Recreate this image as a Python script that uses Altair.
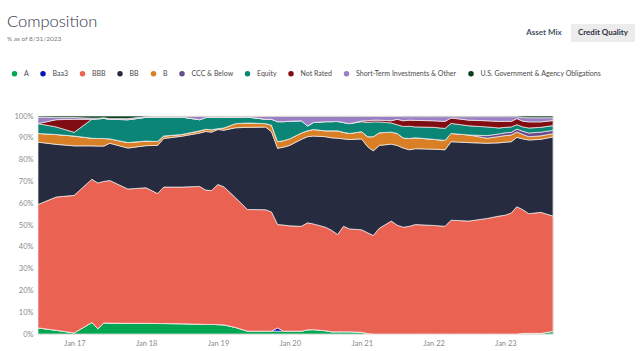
import altair as alt
import pandas as pd

# ---------------- data ----------------
dates = [
    "2016-06-30", "2016-09-30", "2016-12-31", "2017-03-31", "2017-04-30", "2017-05-31",
    "2017-06-30", "2017-09-30", "2017-12-31", "2018-02-28", "2018-03-31", "2018-06-30",
    "2018-09-30", "2018-10-31", "2018-11-30", "2018-12-31", "2019-01-31", "2019-03-31",
    "2019-05-31", "2019-08-31", "2019-09-30", "2019-10-31", "2019-11-30", "2019-12-31",
    "2020-02-29", "2020-03-31", "2020-04-30", "2020-06-30", "2020-07-31", "2020-08-31",
    "2020-09-30", "2020-10-31", "2020-12-31", "2021-01-31", "2021-02-28", "2021-03-31",
    "2021-05-31", "2021-06-30", "2021-07-31", "2021-08-31", "2021-09-30", "2021-12-31",
    "2022-02-28", "2022-03-31", "2022-06-30", "2022-09-30", "2022-11-30", "2022-12-31",
    "2023-01-31", "2023-02-28", "2023-03-31", "2023-04-30", "2023-06-30", "2023-08-31",
]

series_names = [
    "A", "Baa3", "BBB", "BB", "B", "CCC & Below", "Equity", "Not Rated",
    "Short-Term Investments & Other", "U.S. Government & Agency Obligations",
]
series_colors = [
    "#00a651", "#0a14b4", "#ea6352", "#272b3f", "#d98027", "#6a4a8b",
    "#0b8676", "#7f0d12", "#9a7fc4", "#063d1f",
]

a_vals = [2.8, 1.7, 0.5, 5.3, 2.4, 5.1, 5.0, 4.9, 4.9, 4.8, 4.8, 4.7, 4.5, 4.4, 4.4, 4.3, 4.2, 3.0,
          1.3, 1.3, 1.3, 1.3, 1.3, 1.3, 1.3, 1.9, 2.0, 1.5, 1.0, 1.0, 1.0, 1.0, 0.8, 0.2, 0, 0,
          0, 0, 0, 0, 0, 0, 0, 0, 0, 0, 0, 0, 0, 0, 0.3, 0.3, 0.3, 1.2]
baa3_vals = [0, 0, 0, 0, 0, 0, 0, 0, 0, 0, 0, 0, 0, 0, 0, 0, 0, 0,
             0, 0, 0, 1.5, 0, 0, 0, 0, 0, 0, 0, 0, 0, 0, 0, 0, 0, 0,
             0, 0, 0, 0, 0, 0, 0, 0, 0, 0, 0, 0, 0, 0, 0, 0, 0, 0]
bbb_vals = [56.6, 61.1, 63.1, 65.7, 66.9, 64.9, 65.4, 61.6, 62.2, 59.6, 62.6, 62.7, 63.2, 61.6,
            61.4, 64.3, 63.3, 59.5, 55.8, 55.7, 54.7, 47.4, 48.7, 48.3, 48.1, 49.1, 48.5, 47.5,
            46.6, 44.6, 48.4, 47.2, 47.0, 46.2, 45.2, 48.5, 51.8, 49.9, 49.0, 49.4, 50.2, 49.8,
            49.4, 52.2, 51.8, 53.0, 54.1, 54.5, 55.5, 58.4, 56.7, 54.9, 55.5, 52.9]
bb_vals = [28.6, 24.2, 22.7, 15.3, 16.9, 16.2, 17.1, 18.8, 19.3, 22.1, 22.3, 23.3, 24.5, 26.9,
           26.8, 25.2, 26.0, 32.1, 37.7, 37.9, 36.8, 35.0, 35.7, 36.9, 39.9, 39.5, 40.3, 41.5,
           42.4, 44.2, 40.1, 41.0, 41.7, 39.5, 38.8, 38.0, 35.3, 36.6, 36.3, 35.1, 34.8, 35.0,
           35.1, 36.0, 36.0, 34.5, 33.6, 33.5, 32.7, 31.8, 32.5, 33.8, 33.5, 36.3]
b_vals = [4.0, 4.5, 4.5, 3.5, 3.5, 3.5, 2.0, 2.5, 2.1, 1.8, 1.1, 0.8, 1.0, 1.0, 1.1, 0.4, 1.0, 1.9,
          2.0, 1.6, 3.0, 3.0, 3.0, 3.0, 2.9, 2.7, 3.0, 2.7, 3.2, 3.4, 3.0, 2.8, 3.3, 4.6, 6.5, 5.8,
          5.5, 5.5, 4.6, 5.2, 5.0, 4.5, 4.3, 3.8, 3.5, 2.3, 2.9, 3.0, 3.1, 2.5, 2.0, 1.5, 1.6, 1.5]
ccc_vals = [0, 0, 0, 0, 0, 0, 0, 0, 0, 0, 0, 0, 0, 0, 0, 0, 0, 0,
            0, 0, 0, 0, 0, 0, 0, 0, 0, 0, 0, 0, 0, 0, 0, 0, 0, 0,
            0, 0, 0, 0, 0, 0, 0, 0, 0, 1.2, 1.2, 1.3, 1.2, 1.3, 1.5, 1.7, 1.7, 1.5]
equity_vals = [4.5, 3.5, 1.7, 8.7, 9.0, 9.2, 9.0, 10.5, 10.9, 11.2, 8.7, 8.0, 5.1, 5.4, 5.7, 5.2,
               4.9, 2.9, 2.7, 2.0, 2.7, 9.2, 8.7, 8.1, 5.6, 2.2, 3.2, 4.2, 4.2, 4.3, 4.5, 4.5,
               4.6, 6.5, 6.8, 5.0, 4.2, 4.0, 5.3, 5.6, 5.0, 5.5, 5.5, 4.6, 4.2, 4.0, 2.7, 2.5,
               2.5, 2.0, 2.0, 2.3, 2.2, 2.2]
not_rated_vals = [0, 3.3, 6.0, 0, 0, 0, 0, 0, 0, 0, 0, 0, 0, 0, 0, 0, 0, 0,
                  0, 0, 0, 0, 0, 0, 0, 0, 0, 0, 0, 0, 0, 0, 0.3, 0.8, 0.8, 0.8,
                  1.0, 2.5, 2.6, 2.8, 3.0, 3.0, 3.2, 2.5, 2.6, 2.8, 3.0, 2.8, 2.5, 2.8, 2.6, 2.8,
                  2.5, 2.3]
short_term_vals = [3.0, 1.0, 0.8, 0.5, 0.3, 0.3, 0.3, 0.5, 0.3, 0.3, 0.3, 0.3, 1.5, 0.5, 0.4, 0.4,
                   0.4, 0.4, 0.3, 1.3, 1.3, 2.4, 2.4, 2.2, 2.0, 4.4, 2.8, 2.4, 2.4, 2.3, 2.8, 3.3,
                   2.1, 2.0, 1.7, 1.7, 2.0, 1.3, 1.9, 1.6, 1.7, 1.9, 2.2, 0.6, 1.6, 1.9, 2.2, 2.1,
                   2.2, 0.9, 1.7, 1.9, 1.9, 1.3]
us_gov_vals = [0.5, 0.7, 0.7, 1.0, 1.0, 0.8, 1.2, 1.2, 0.3, 0.2, 0.2, 0.2, 0.2, 0.2, 0.2, 0.2,
               0.2, 0.2, 0.2, 0.2, 0.2, 0.2, 0.2, 0.2, 0.2, 0.2, 0.2, 0.2, 0.2, 0.2, 0.2, 0.2,
               0.2, 0.2, 0.2, 0.2, 0.2, 0.2, 0.3, 0.3, 0.3, 0.3, 0.3, 0.3, 0.3, 0.3, 0.3, 0.3,
               0.3, 0.3, 0.7, 0.8, 0.8, 0.8]

all_series = [a_vals, baa3_vals, bbb_vals, bb_vals, b_vals, ccc_vals, equity_vals,
              not_rated_vals, short_term_vals, us_gov_vals]

y_ticks = [0, 10, 20, 30, 40, 50, 60, 70, 80, 90, 100]
x_tick_years = [2017, 2018, 2019, 2020, 2021, 2022, 2023]

title_text = "Composition"
subtitle_text = "% as of 8/31/2023"
tab_labels = ["Asset Mix", "Credit Quality"]

# ---------------- build long table ----------------
rows = []
for idx, (name, vals) in enumerate(zip(series_names, all_series)):
    for d, v in zip(dates, vals):
        rows.append({"date": d, "series": name, "value": v, "rank": idx})
df = pd.DataFrame(rows)

FONT = "Lato"
W, H = 515, 218
PAD_L, PAD_T = 38, 116

area = alt.Chart(df).mark_area(
    stroke="#f3eeee", strokeWidth=0.7, interpolate="linear"
).encode(
    x=alt.X(
        "date:T",
        scale=alt.Scale(
            type="utc",
            domain=[alt.DateTime(year=2016, month=6, date=30, utc=True),
                    alt.DateTime(year=2023, month=8, date=31, utc=True)],
        ),
        axis=alt.Axis(
            title=None, values=[alt.DateTime(year=y, month=1, date=1, utc=True) for y in x_tick_years],
            format="%b %y", labelFont=FONT, labelFontSize=7.5, labelColor="#8a8a8a",
            ticks=False, domain=False, grid=False, labelPadding=5,
        ),
    ),
    y=alt.Y(
        "value:Q", stack="zero",
        scale=alt.Scale(domain=[0, 100], nice=False),
        axis=alt.Axis(
            title=None, values=y_ticks, labelExpr="datum.value + '%'",
            labelFont=FONT, labelFontSize=7.5, labelColor="#8a8a8a",
            ticks=False, domain=False, grid=False, labelPadding=5,
        ),
    ),
    color=alt.Color(
        "series:N",
        scale=alt.Scale(domain=series_names, range=series_colors),
        legend=alt.Legend(
            orient="none", legendX=-27, legendY=-46, direction="horizontal", columns=10,
            symbolType="circle", symbolSize=30, symbolStrokeWidth=0, symbolOpacity=1,
            labelFont=FONT, labelFontSize=7, labelColor="#4a4a4a", labelOffset=6,
            columnPadding=10.5, title=None, padding=0, labelLimit=0,
        ),
    ),
    order=alt.Order("rank:Q", sort="ascending"),
)

dummy = pd.DataFrame({"k": [0]})
title_mark = alt.Chart(dummy).mark_text(
    text=title_text, font=FONT, fontSize=16.5, fontWeight=300, color="#2e3345",
    align="left", baseline="alphabetic",
).encode(x=alt.value(-31), y=alt.value(-89))
subtitle_mark = alt.Chart(dummy).mark_text(
    text=subtitle_text, font=FONT, fontSize=6.5, color="#7a7a7a",
    align="left", baseline="alphabetic",
).encode(x=alt.value(-31), y=alt.value(-75))
tab_box = alt.Chart(dummy).mark_rect(color="#ececec").encode(
    x=alt.value(533), x2=alt.value(597), y=alt.value(-92), y2=alt.value(-74)
)
tab1 = alt.Chart(dummy).mark_text(
    text=tab_labels[0], font=FONT, fontSize=8, fontWeight="bold", color="#4a5166"
).encode(x=alt.value(506), y=alt.value(-83))
tab2 = alt.Chart(dummy).mark_text(
    text=tab_labels[1], font=FONT, fontSize=8, fontWeight="bold", color="#2b3042"
).encode(x=alt.value(565), y=alt.value(-83))

chart = alt.layer(area, title_mark, subtitle_mark, tab_box, tab1, tab2).properties(
    width=W, height=H,
    padding={"left": PAD_L, "top": PAD_T, "right": 640 - PAD_L - W, "bottom": 351 - PAD_T - H},
    autosize=alt.AutoSizeParams(type="none"),
).configure_view(stroke=None).configure(background="white")

chart.save("out.html", embed_options={"renderer": "svg", "actions": False})
